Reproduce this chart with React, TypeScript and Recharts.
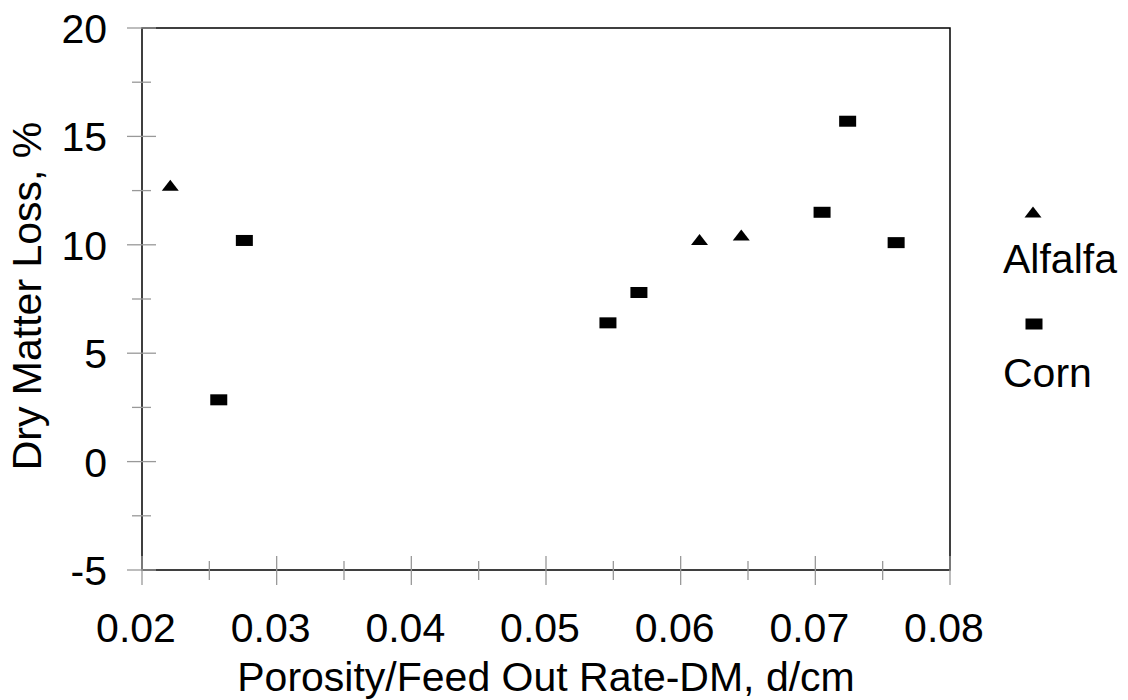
import React from "react";
import {
  ScatterChart,
  Scatter,
  XAxis,
  YAxis,
  ReferenceArea,
  Legend,
} from "recharts";

const FONT = "'Liberation Sans', Arial, sans-serif";

const alfalfaX = [0.0221, 0.0614, 0.0645];
const alfalfaY = [12.75, 10.25, 10.45];

const cornX = [0.0257, 0.0276, 0.0546, 0.0569, 0.0705, 0.0724, 0.076];
const cornY = [2.85, 10.2, 6.4, 7.8, 11.5, 15.7, 10.1];

const xTicks = [0.02, 0.025, 0.03, 0.035, 0.04, 0.045, 0.05, 0.055, 0.06, 0.065, 0.07, 0.075, 0.08];
const yTicks = [-5, -2.5, 0, 2.5, 5, 7.5, 10, 12.5, 15, 17.5, 20];

const alfalfa = alfalfaX.map((x, i) => ({ x, y: alfalfaY[i] }));
const corn = cornX.map((x, i) => ({ x, y: cornY[i] }));

const Triangle = (props: any) => {
  const { cx, cy } = props;
  if (cx == null || cy == null) return null;
  return <path d={`M${cx - 8.5},${cy + 5.5} L${cx + 8.5},${cy + 5.5} L${cx},${cy - 5.5} Z`} fill="#000" />;
};

const Square = (props: any) => {
  const { cx, cy } = props;
  if (cx == null || cy == null) return null;
  return <rect x={cx - 8.5} y={cy - 5.5} width={17} height={11} fill="#000" />;
};

const isMajorX = (v: number) => Math.abs(v * 100 - Math.round(v * 100)) < 1e-6;

const XTick = (props: any) => {
  const { x, y, payload } = props;
  const major = isMajorX(payload.value);
  const out = major ? 15 : 10;
  const inn = major ? 14 : 9;
  return (
    <g>
      <line x1={x} x2={x} y1={y - inn} y2={y + out} stroke="#999" strokeWidth={1.3} />
      {major && (
        <text x={x - 6} y={y + 72} textAnchor="middle" fontFamily={FONT} fontSize={41} fill="#000">
          {payload.value.toFixed(2)}
        </text>
      )}
    </g>
  );
};

const YTick = (props: any) => {
  const { x, y, payload } = props;
  const major = payload.value % 5 === 0;
  const out = major ? 15 : 10;
  const inn = major ? 14 : 9;
  return (
    <g>
      <line x1={x - out} x2={x + inn} y1={y} y2={y} stroke="#999" strokeWidth={1.3} />
      {major && (
        <text x={x - 35} y={y + 15} textAnchor="end" fontFamily={FONT} fontSize={41} fill="#000">
          {payload.value}
        </text>
      )}
    </g>
  );
};

const YTitle = (props: any) => {
  const { viewBox } = props;
  const cy = viewBox.y + viewBox.height / 2 - 3;
  const bx = 41;
  return (
    <text
      x={bx}
      y={cy}
      transform={`rotate(-90, ${bx}, ${cy})`}
      textAnchor="middle"
      fontFamily={FONT}
      fontSize={41}
      fill="#000"
    >
      Dry Matter Loss, %
    </text>
  );
};

const XTitle = (props: any) => {
  const { viewBox } = props;
  return (
    <text
      x={viewBox.x + viewBox.width / 2}
      y={691}
      textAnchor="middle"
      fontFamily={FONT}
      fontSize={41}
      fill="#000"
    >
      Porosity/Feed Out Rate-DM, d/cm
    </text>
  );
};

const LegendBox = () => (
  <svg width={140} height={220} style={{ display: "block" }}>
    <Triangle cx={48} cy={22} />
    <text x={18} y={83} fontFamily={FONT} fontSize={41} fill="#000">
      Alfalfa
    </text>
    <Square cx={49} cy={134} />
    <text x={18} y={197} fontFamily={FONT} fontSize={41} fill="#000">
      Corn
    </text>
  </svg>
);

export default function App() {
  return (
    <div style={{ position: "absolute", left: 0, top: 0, width: 1128, height: 700, background: "#fff" }}>
      <ScatterChart width={1128} height={700} margin={{ top: 28, right: 178, bottom: 0, left: 0 }}>
        <XAxis
          type="number"
          dataKey="x"
          domain={[0.02, 0.08]}
          ticks={xTicks}
          interval={0}
          height={130}
          axisLine={false}
          tickLine={false}
          tickSize={0}
          tickMargin={0}
          tick={<XTick />}
          label={<XTitle />}
        />
        <YAxis
          type="number"
          dataKey="y"
          domain={[-5, 20]}
          ticks={yTicks}
          interval={0}
          width={142}
          axisLine={false}
          tickLine={false}
          tickSize={0}
          tickMargin={0}
          tick={<YTick />}
          label={<YTitle />}
        />
        <ReferenceArea x1={0.02} x2={0.08} y1={-5} y2={20} fill="none" stroke="#000" strokeWidth={1.5} />
        <Scatter name="Alfalfa" data={alfalfa} shape={<Triangle />} isAnimationActive={false} />
        <Scatter name="Corn" data={corn} shape={<Square />} isAnimationActive={false} />
        <Legend
          layout="horizontal"
          verticalAlign="middle"
          content={<LegendBox />}
          wrapperStyle={{ position: "absolute", left: 985, top: 190, width: 140, height: 220 }}
        />
      </ScatterChart>
    </div>
  );
}
